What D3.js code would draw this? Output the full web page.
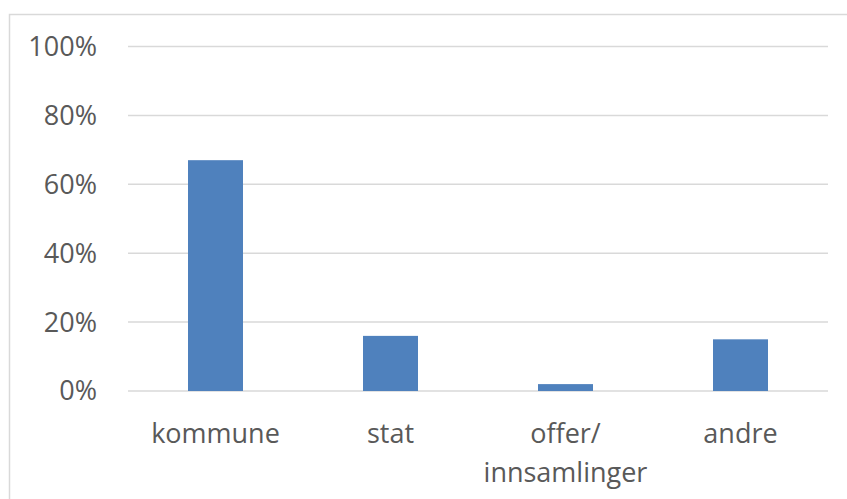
<!DOCTYPE html>
<html>
<head>
<meta charset="utf-8">
<script src="https://cdn.jsdelivr.net/npm/d3@7"></script>
<style>
  body { margin: 0; background: #fff; }
  text { font-family: "Open Sans", "Liberation Sans", sans-serif; fill: #595959; }
</style>
</head>
<body>
<div id="chart"></div>
<script>
var categories = ["kommune", "stat", "offer/\ninnsamlinger", "andre"];
var values = [0.67, 0.16, 0.02, 0.15];
var yTicks = [0, 0.2, 0.4, 0.6, 0.8, 1.0];

var width = 847, height = 499;
var margin = {top: 46.5, right: 19, bottom: 108, left: 128};

var svg = d3.select("#chart").append("svg")
    .attr("width", width)
    .attr("height", height);

// chart frame
svg.append("rect")
    .attr("x", 9.5).attr("y", 14.5)
    .attr("width", width).attr("height", height)
    .attr("fill", "none")
    .attr("stroke", "#d9d9d9")
    .attr("stroke-width", 1.5);

var x = d3.scaleBand()
    .domain(categories)
    .range([margin.left, width - margin.right])
    .paddingInner(120 / 175)
    .paddingOuter(60 / 175);

var y = d3.scaleLinear()
    .domain([0, 1])
    .range([height - margin.bottom, margin.top]);

// gridlines
svg.append("g")
  .selectAll("line")
  .data(yTicks)
  .join("line")
    .attr("x1", margin.left)
    .attr("x2", width - margin.right)
    .attr("y1", d => y(d))
    .attr("y2", d => y(d))
    .attr("stroke", "#d9d9d9")
    .attr("stroke-width", 1.5);

// y labels
svg.append("g")
  .selectAll("text")
  .data(yTicks)
  .join("text")
    .attr("x", 97)
    .attr("y", d => y(d))
    .attr("dy", "0.35em")
    .attr("text-anchor", "end")
    .style("font-size", "27px")
    .text(d => d3.format(".0%")(d));

// bars
svg.append("g")
  .selectAll("rect")
  .data(values)
  .join("rect")
    .attr("x", (d, i) => x(categories[i]))
    .attr("y", d => y(d))
    .attr("width", x.bandwidth())
    .attr("height", d => y(0) - y(d))
    .attr("fill", "#4f81bd");

// category labels
var lab = svg.append("g")
  .selectAll("text")
  .data(categories)
  .join("text")
    .attr("x", d => x(d) + x.bandwidth() / 2)
    .attr("y", 443)
    .attr("text-anchor", "middle")
    .style("font-size", "27px");

lab.selectAll("tspan")
  .data(d => d.split("\n").map(t => ({t: t, x: x(d) + x.bandwidth() / 2})))
  .join("tspan")
    .attr("x", d => d.x)
    .attr("dy", (d, i) => i === 0 ? 0 : 39)
    .text(d => d.t);
</script>
</body>
</html>
